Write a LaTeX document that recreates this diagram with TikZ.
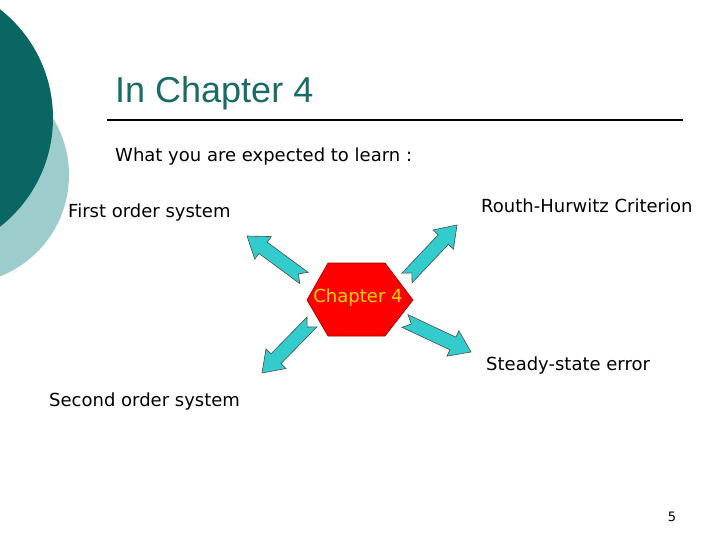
\documentclass[tikz,border=0pt]{standalone}
\usepackage{fontspec}
\setmainfont{DejaVu Sans}
\newfontfamily\titlefont{Liberation Sans}
\usetikzlibrary{calc}

\tikzset{
  labeltext/.style={inner sep=0pt, anchor=base west, font=\fontsize{18}{22}\selectfont},
  hexa/.style={fill=red, draw=red!60!black, line width=0.6pt},
  blockarrow/.style={fill=arrowcyan, draw=black!70, line width=0.6pt, line join=miter}
}

\begin{document}
\begin{tikzpicture}[x=1pt,y=1pt,yscale=-1,xscale=1]

\definecolor{darkteal}{RGB}{10,102,99}
\definecolor{lightteal}{RGB}{156,204,204}
\definecolor{titleteal}{RGB}{26,107,102}
\definecolor{arrowcyan}{RGB}{51,204,204}
\definecolor{chapyellow}{RGB}{255,215,0}

\useasboundingbox (0,0) rectangle (720,540);
\fill[white] (0,0) rectangle (720,540);

% circles on the left edge
\begin{scope}
  \clip (0,0) rectangle (720,540);
  \fill[lightteal] (-40,175) circle (109pt);
  \fill[darkteal] (-85,118) circle (138pt);
\end{scope}

% title and rule
\node[inner sep=0pt, anchor=base west, text=titleteal, font=\titlefont\fontsize{36}{40}\selectfont] (title) at (115,103) {In Chapter 4};
\draw[line width=2pt] (107,120) -- (683,120);

\node[labeltext] (what) at (115,162) {What you are expected to learn :};

% topics
\node[labeltext] (first) at (68,218) {First order system};
\node[labeltext] (routh) at (481,213) {Routh-Hurwitz Criterion};
\node[labeltext] (steady) at (486,370) {Steady-state error};
\node[labeltext] (second) at (49,406) {Second order system};

% centre hexagon
\draw[hexa] (307,300) -- (328,263) -- (385,263) -- (413,300) -- (385,336) -- (328,336) -- cycle;
\node[inner sep=0pt, text=chapyellow, font=\fontsize{18}{22}\selectfont] (chap) at (358,298) {Chapter 4};

\coordinate (ul-tail) at (304,278);
\coordinate (ul-tip) at (247,236);
\coordinate (ur-tail) at (407,278);
\coordinate (ur-tip) at (457,225);
\coordinate (ll-tail) at (312,322);
\coordinate (ll-tip) at (262,373);
\coordinate (lr-tail) at (405,321);
\coordinate (lr-tip) at (471,352);

\foreach \t/\h in {ul-tail/ul-tip, ur-tail/ur-tip, ll-tail/ll-tip, lr-tail/lr-tip} {
  \coordinate (hb) at ($(\h)!20pt!(\t)$);
  \draw[blockarrow] ($(\t)!7pt!90:(\h)$) -- ($(hb)!7pt!90:(\h)$) -- ($(hb)!14pt!90:(\h)$)
    -- (\h) -- ($(hb)!14pt!-90:(\h)$) -- ($(hb)!7pt!-90:(\h)$) -- ($(\t)!7pt!-90:(\h)$)
    -- ($(\t)!7pt!(\h)$) -- cycle;
}

\node[inner sep=0pt, font=\fontsize{13}{15}\selectfont] (pagenum) at (672,517) {5};

\end{tikzpicture}
\end{document}
